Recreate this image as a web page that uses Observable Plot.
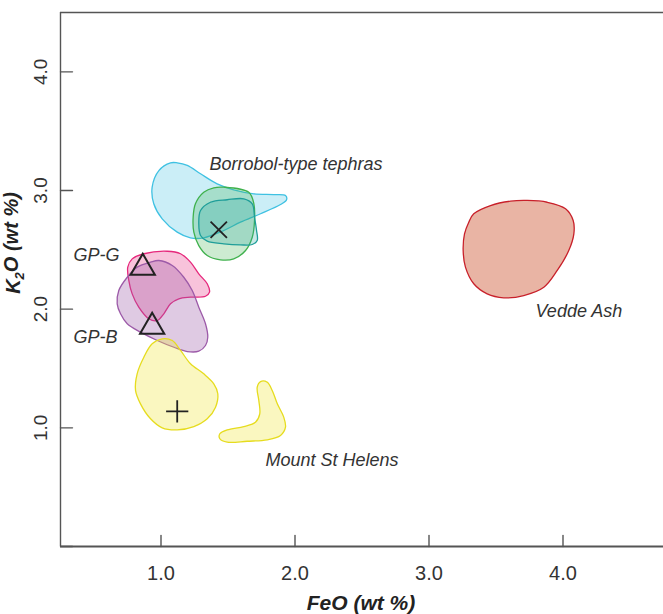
<!DOCTYPE html>
<html>
<head>
<meta charset="utf-8">
<script src="https://cdn.jsdelivr.net/npm/d3@7"></script>
<script src="https://cdn.jsdelivr.net/npm/@observablehq/plot@0.6"></script>
<style>
  body { margin: 0; background: #fff; }
</style>
</head>
<body>
<div id="chart"></div>
<script>
// ---- axes ----
const xDomain = [0.25, 4.75];
const yDomain = [0, 4.5];
const xTicks = [1, 2, 3, 4];
const yTicks = [1, 2, 3, 4];
const yTickMarks = [0, 1, 2, 3, 4];
const xTickLabels = ["1.0", "2.0", "3.0", "4.0"];
const yTickLabels = ["1.0", "2.0", "3.0", "4.0"];

// ---- compositional fields (FeO, K2O wt %) ----
const borrobolOuter = [[1.071,3.233],[0.984,3.168],[0.934,3.028],[0.946,2.888],[1.009,2.761],[1.121,2.649],[1.220,2.601],[1.319,2.601],[1.469,2.663],[1.593,2.733],[1.743,2.804],[1.892,2.882],[1.937,2.922],[1.929,2.958],[1.842,2.966],[1.693,2.972],[1.543,3.006],[1.419,3.056],[1.295,3.141],[1.196,3.211],[1.121,3.233]];
const borrobolGreen = [[1.469,3.028],[1.655,2.985],[1.693,2.888],[1.698,2.747],[1.681,2.606],[1.631,2.494],[1.543,2.424],[1.444,2.416],[1.345,2.452],[1.282,2.536],[1.245,2.649],[1.240,2.775],[1.257,2.888],[1.319,2.985],[1.394,3.023]];
const borrobolTeal = [[1.295,2.831],[1.369,2.901],[1.494,2.922],[1.618,2.930],[1.681,2.888],[1.698,2.775],[1.713,2.663],[1.718,2.579],[1.681,2.545],[1.593,2.542],[1.469,2.551],[1.345,2.573],[1.295,2.621],[1.282,2.719]];
const gpG = [[0.785,2.424],[0.872,2.467],[1.046,2.488],[1.146,2.467],[1.220,2.396],[1.282,2.298],[1.345,2.214],[1.362,2.143],[1.332,2.109],[1.220,2.101],[1.133,2.087],[1.071,2.045],[1.021,1.961],[0.972,1.904],[0.909,1.919],[0.834,2.017],[0.785,2.129],[0.760,2.241],[0.752,2.354]];
const gpB = [[0.922,2.396],[0.984,2.410],[1.084,2.368],[1.170,2.269],[1.233,2.157],[1.282,2.017],[1.332,1.877],[1.349,1.764],[1.332,1.694],[1.282,1.646],[1.196,1.643],[1.096,1.679],[0.972,1.736],[0.847,1.806],[0.748,1.877],[0.698,1.961],[0.673,2.045],[0.685,2.157],[0.748,2.269],[0.822,2.354]];
const mshMain = [[1.009,1.750],[1.084,1.736],[1.146,1.652],[1.220,1.540],[1.319,1.455],[1.394,1.371],[1.424,1.287],[1.407,1.174],[1.345,1.076],[1.245,1.011],[1.121,0.983],[1.009,1.000],[0.922,1.076],[0.847,1.202],[0.810,1.315],[0.822,1.455],[0.872,1.595],[0.934,1.708]];
const mshSmall = [[1.743,1.390],[1.793,1.384],[1.830,1.315],[1.868,1.202],[1.916,1.090],[1.929,1.005],[1.892,0.935],[1.793,0.899],[1.643,0.887],[1.494,0.879],[1.439,0.908],[1.439,0.950],[1.494,0.983],[1.618,1.011],[1.705,1.047],[1.737,1.118],[1.730,1.230],[1.718,1.342]];
const vedde = [[3.334,2.804],[3.459,2.873],[3.608,2.910],[3.733,2.916],[3.882,2.901],[4.019,2.846],[4.076,2.747],[4.081,2.635],[4.043,2.494],[3.957,2.326],[3.857,2.185],[3.707,2.115],[3.558,2.096],[3.434,2.129],[3.334,2.214],[3.272,2.354],[3.255,2.494],[3.265,2.635],[3.297,2.733]];

// ---- reference markers ----
const markerNames = ["Borrobol", "GP-G", "GP-B", "MSH"];
const markerX = [1.431, 0.864, 0.934, 1.121];
const markerY = [2.669, 2.349, 1.851, 1.138];
const markerSymbol = ["times", "triangle", "triangle", "plus"];

// ---- labels ----
const labelText = ["Borrobol-type tephras", "GP-G", "GP-B", "Vedde Ash", "Mount St Helens"];
const labelX = [1.362, 0.347, 0.347, 3.795, 1.780];
const labelY = [3.219, 2.452, 1.761, 1.980, 0.725];

const fields = [
  {pts: borrobolOuter, stroke: "#3fc1e2", fill: "#3fc1e2", op: 0.27},
  {pts: borrobolGreen, stroke: "#3fb14d", fill: "#3fb14d", op: 0.26},
  {pts: borrobolTeal, stroke: "#1f9e99", fill: "#22a4a0", op: 0.25},
  {pts: gpG, stroke: "#e6287c", fill: "#e6287c", op: 0.28},
  {pts: gpB, stroke: "#9c5aa8", fill: "#9c5aa8", op: 0.32},
  {pts: mshMain, stroke: "#e6dc1e", fill: "#efe63c", op: 0.32},
  {pts: mshSmall, stroke: "#e6dc1e", fill: "#efe63c", op: 0.32},
  {pts: vedde, stroke: "#c8202a", fill: "#d4694a", op: 0.5}
];

const markers = markerNames.map((n, i) => ({name: n, x: markerX[i], y: markerY[i], s: markerSymbol[i]}));
const labels = labelText.map((t, i) => ({text: t, x: labelX[i], y: labelY[i]}));
const xt = xTicks.map((v, i) => ({v, label: xTickLabels[i]}));
const yt = yTicks.map((v, i) => ({v, label: yTickLabels[i]}));

const tickShape = {draw(context, l) { context.moveTo(0, 0); context.lineTo(0, -l); }};
const axisColor = "#555";

const marks = [];
for (const f of fields) {
  marks.push(Plot.line(f.pts, {
    x: d => d[0], y: d => d[1], curve: "catmull-rom-closed",
    fill: f.fill, fillOpacity: f.op, stroke: f.stroke, strokeWidth: 1.3
  }));
}
marks.push(
  Plot.dot(markers.filter(d => d.s === "triangle"), {x: "x", y: "y", symbol: "triangle", r: 9, stroke: "#222", strokeWidth: 2, fill: "none"}),
  Plot.dot(markers.filter(d => d.s === "times"), {x: "x", y: "y", symbol: "times", r: 7.5, stroke: "#222", strokeWidth: 1.8}),
  Plot.dot(markers.filter(d => d.s === "plus"), {x: "x", y: "y", symbol: "plus", r: 7.2, stroke: "#222", strokeWidth: 1.8}),
  Plot.text(labels, {x: "x", y: "y", text: "text", textAnchor: "start", lineAnchor: "middle", fontStyle: "italic", fontSize: 18, fill: "#333"}),
  // frame lines
  Plot.ruleX([xDomain[0]], {stroke: axisColor, strokeWidth: 1.4}),
  Plot.ruleY([yDomain[0]], {stroke: axisColor, strokeWidth: 2}),
  Plot.ruleY([yDomain[1]], {stroke: axisColor, strokeWidth: 1.4}),
  // ticks
  Plot.vector(xTicks, {x: d => d, y: yDomain[0], length: 11, rotate: 0, anchor: "start", shape: tickShape, stroke: axisColor, strokeWidth: 1.4}),
  Plot.vector(yTickMarks, {x: xDomain[0], y: d => d, length: 12, rotate: 90, anchor: "start", shape: tickShape, stroke: axisColor, strokeWidth: 1.4}),
  // tick labels
  Plot.text(xt, {x: "v", y: yDomain[0], text: "label", dy: 27, lineAnchor: "middle", textAnchor: "middle", fontSize: 20, fill: "#333"}),
  Plot.text(yt, {x: xDomain[0], y: "v", text: "label", dx: -20, rotate: -90, lineAnchor: "middle", textAnchor: "middle", fontSize: 19, fill: "#333"})
);

const svg = Plot.plot({
  width: 663,
  height: 614,
  marginLeft: 60,
  marginRight: 0,
  marginTop: 12,
  marginBottom: 68,
  x: {domain: xDomain, axis: null},
  y: {domain: yDomain, axis: null},
  style: {fontFamily: "'Liberation Sans', Arial, sans-serif", background: "#fff"},
  marks
});

const s = d3.select(svg);
s.append("text")
  .attr("x", 361).attr("y", 610)
  .attr("text-anchor", "middle")
  .attr("font-size", 21).attr("font-weight", "bold").attr("font-style", "italic")
  .attr("fill", "#222")
  .text("FeO (wt %)");
const yl = s.append("text")
  .attr("transform", "translate(20,243) rotate(-90)")
  .attr("text-anchor", "middle")
  .attr("font-size", 20).attr("font-weight", "bold").attr("font-style", "italic")
  .attr("fill", "#222");
yl.append("tspan").text("K");
yl.append("tspan").attr("dy", "0.3em").attr("font-size", 13).text("2");
yl.append("tspan").attr("dy", "-0.3em").text("O (wt %)");

document.getElementById("chart").appendChild(svg);
</script>
</body>
</html>
